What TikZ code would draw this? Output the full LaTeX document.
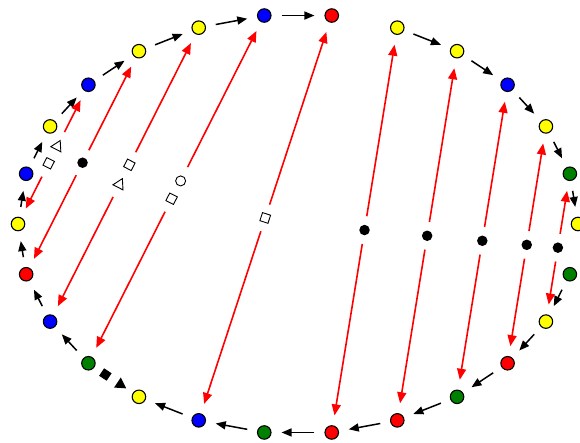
\documentclass[tikz,border=0pt]{standalone}
\usetikzlibrary{arrows.meta,calc,shapes.geometric}
\definecolor{cY}{RGB}{255,255,0}
\definecolor{cB}{RGB}{0,0,255}
\definecolor{cR}{RGB}{255,0,0}
\definecolor{cG}{RGB}{0,128,0}
\begin{document}
\begin{tikzpicture}[x=1pt,y=-1pt,
  vtx/.style={circle,draw=black,line width=1.1pt,minimum size=13.5pt,inner sep=0pt},
  flow/.style={line width=1.5pt,-{Triangle[length=10pt,width=8pt]},shorten <=10pt,shorten >=10pt},
  pair/.style={draw=cR,line width=1.6pt,-{Triangle[length=11pt,width=9pt,fill=cR]},shorten >=10pt},
  gapone/.style={shorten <=14pt},
  gaptwo/.style={shorten <=25pt},
  bdot/.style={circle,fill=black,minimum size=10.5pt,inner sep=0pt},
  wsq/.style={rectangle,draw=black,line width=0.9pt,fill=white,minimum size=8.5pt,inner sep=0pt},
  wtri/.style={regular polygon,regular polygon sides=3,draw=black,line width=0.9pt,fill=white,minimum size=13pt,inner sep=0pt},
  wcirc/.style={circle,draw=black,line width=0.9pt,fill=white,minimum size=10pt,inner sep=0pt},
  bsq/.style={rectangle,fill=black,minimum size=9pt,inner sep=0pt},
  btri/.style={regular polygon,regular polygon sides=3,fill=black,minimum size=14pt,inner sep=0pt},
]
\useasboundingbox (0,0) rectangle (580,442);
% ring of vertices
\foreach \k/\c in {1/cY,2/cB,3/cY,4/cB,5/cY,6/cY,7/cB,8/cR,9/cY,10/cY,11/cB,12/cY,13/cG,
                   14/cY,15/cG,16/cY,17/cR,18/cG,19/cR,20/cR,21/cG,22/cB,23/cY,24/cG,25/cB,26/cR}{
  \node[vtx,fill=\c] (n\k) at ({298+280*cos((14-\k)*360/26)},{224-210*sin((14-\k)*360/26)}) {};
}
% black flow arrows along the ring
\foreach \a/\b in {9/10,10/11,11/12,12/13,13/14,15/16,16/17,17/18,18/19,19/20,20/21,21/22,22/23,
                   24/25,25/26,26/1,1/2,2/3,3/4,4/5,5/6,6/7,7/8}{
  \draw[flow] (n\a) -- (n\b);
}
% midpoints of the pairings
\foreach \a/\b/\m in {1/4/p1,26/5/p2,25/6/p3,24/7/p4,22/8/p5,20/9/p6,19/10/p7,18/11/p8,17/12/p9,16/13/p10,24/23/p11}{
  \coordinate (\m) at ($(n\a)!0.5!(n\b)$);
}
% red pairings, single marker
\foreach \m/\a/\b in {p2/26/5,p5/22/8,p6/20/9,p7/19/10,p8/18/11,p9/17/12,p10/16/13}{
  \draw[pair,gapone] (\m) -- (n\a);
  \draw[pair,gapone] (\m) -- (n\b);
}
% red pairings, two markers
\foreach \m/\a/\b in {p1/1/4,p3/25/6,p4/24/7}{
  \draw[pair,gaptwo] (\m) -- (n\a);
  \draw[pair,gaptwo] (\m) -- (n\b);
}
% markers
\foreach \m in {p2,p6,p7,p8,p9,p10}{
  \node[bdot] (d\m) at (\m) {};
}
\node[wsq,rotate=-18.2] (s5) at (p5) {};
\node[wsq,rotate=-26.9] (s1) at ($(p1)!10pt!(n1)$) {};
\node[wtri,rotate=-26.9] (t1) at ($(p1)!9pt!(n4)$) {};
\node[wtri,rotate=-26.9] (t3) at ($(p3)!11pt!(n25)$) {};
\node[wsq,rotate=-26.9] (s3) at ($(p3)!11pt!(n6)$) {};
\node[wsq,rotate=-26.9] (s4) at ($(p4)!10.5pt!(n24)$) {};
\node[wcirc] (c4) at ($(p4)!9.5pt!(n7)$) {};
\node[bsq,rotate=-33.6] (s11) at ($(p11)!10pt!(n24)$) {};
\node[btri,rotate=-3.6] (t11) at ($(p11)!8pt!(n23)$) {};
\end{tikzpicture}
\end{document}
